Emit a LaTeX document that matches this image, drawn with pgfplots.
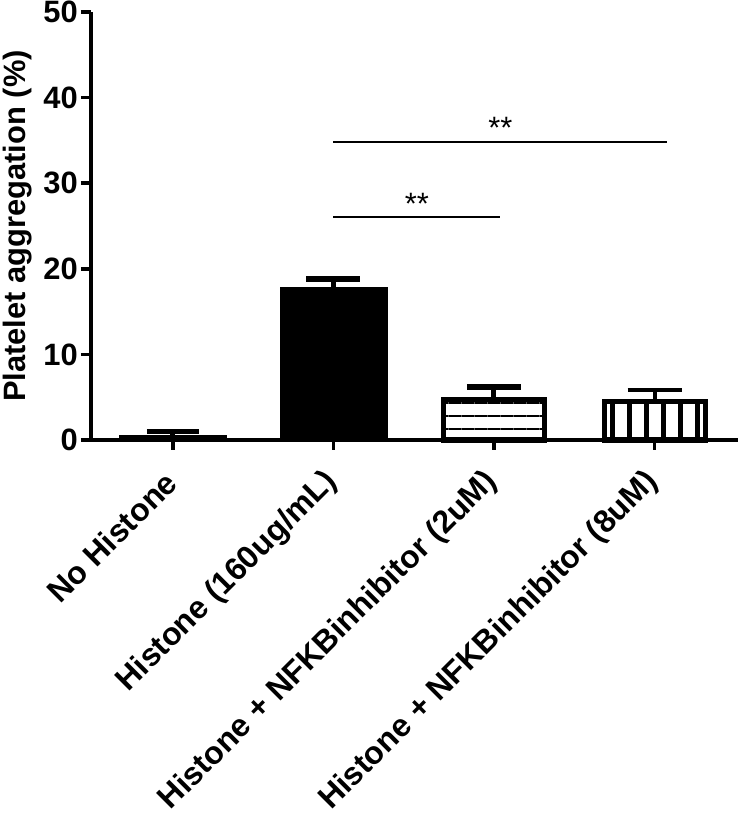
\documentclass[border=0pt]{standalone}
\usepackage{fontspec}
\setmainfont{Liberation Sans}
\usepackage{pgfplots}
\pgfplotsset{compat=1.18}
\usetikzlibrary{patterns.meta}

\begin{document}
\begin{tikzpicture}
\begin{axis}[
    at={(91bp,379bp)}, anchor=south west,
    scale only axis, width=647bp, height=428bp,
    xmin=-0.51, xmax=3.52, ymin=0, ymax=50,
    axis x line=bottom, axis y line=left,
    axis line style={-, line width=3.5bp},
    tick style={line width=3.5bp, black},
    tick align=outside, major tick length=10bp,
    xtick={0,1,2,3}, ytick={0,10,...,50},
    xticklabels={No Histone, Histone (160ug/mL), Histone + NFKBinhibitor (2uM), Histone + NFKBinhibitor (8uM)},
    tick label style={font=\fontsize{31}{37}\selectfont\bfseries},
    x tick label style={rotate=45, anchor=east, inner sep=2bp, font=\fontsize{32}{38}\selectfont\bfseries},
    xticklabel shift=26bp,
    y tick label style={inner sep=3bp},
    /pgf/number format/assume math mode=true,
    ylabel={Platelet aggregation (\%)},
    every axis y label/.style={at={(axis description cs:0,0.5)}, xshift=-73bp, rotate=90, anchor=center,
        font=\fontsize{31}{37}\selectfont\bfseries},
    bar shift=0pt,
    clip=false,
]
% No Histone
\addplot[ybar, bar width=107bp, fill=black, draw=black,
    error bars/.cd, y dir=plus, y explicit,
    error bar style={line width=5bp, black},
    error mark options={rotate=90, mark size=26bp, line width=5bp, black}]
    coordinates {(0,0.6) +- (0,0.45)};
% Histone
\addplot[ybar, bar width=107bp, fill=black, draw=black,
    error bars/.cd, y dir=plus, y explicit,
    error bar style={line width=5bp, black},
    error mark options={rotate=90, mark size=27bp, line width=6bp, black}]
    coordinates {(1,17.9) +- (0,0.95)};
% 2uM
\addplot[ybar, bar width=101bp, fill=white, draw=black, line width=5bp,
    postaction={pattern={Lines[angle=0, distance=13bp, line width=2bp]}}]
    coordinates {(2,4.7)};
\addplot[only marks, mark=none, forget plot,
    error bars/.cd, y dir=plus, y explicit,
    error bar style={line width=5bp, black},
    error mark options={rotate=90, mark size=27bp, line width=6bp, black}]
    coordinates {(2,4.7) +- (0,1.45)};
% 8uM
\addplot[ybar, bar width=101bp, fill=white, draw=black, line width=5bp,
    postaction={pattern={Lines[angle=90, distance=17bp, line width=5bp]}}]
    coordinates {(3,4.55)};
\addplot[only marks, mark=none, forget plot,
    error bars/.cd, y dir=plus, y explicit,
    error bar style={line width=4bp, black},
    error mark options={rotate=90, mark size=27bp, line width=4bp, black}]
    coordinates {(3,4.55) +- (0,1.3)};
% significance
\draw[line width=2.5bp] (axis cs:1,34.8) -- (axis cs:3.08,34.8);
\draw[line width=2.5bp] (axis cs:1,26.05) -- (axis cs:2.04,26.05);
\node[font=\fontsize{31}{37}\selectfont] at (axis cs:2.04,36.5) {**};
\node[font=\fontsize{31}{37}\selectfont] at (axis cs:1.52,27.6) {**};
\end{axis}
\pgfresetboundingbox
\path (0,0) rectangle (738bp,819bp);
\end{tikzpicture}
\end{document}
